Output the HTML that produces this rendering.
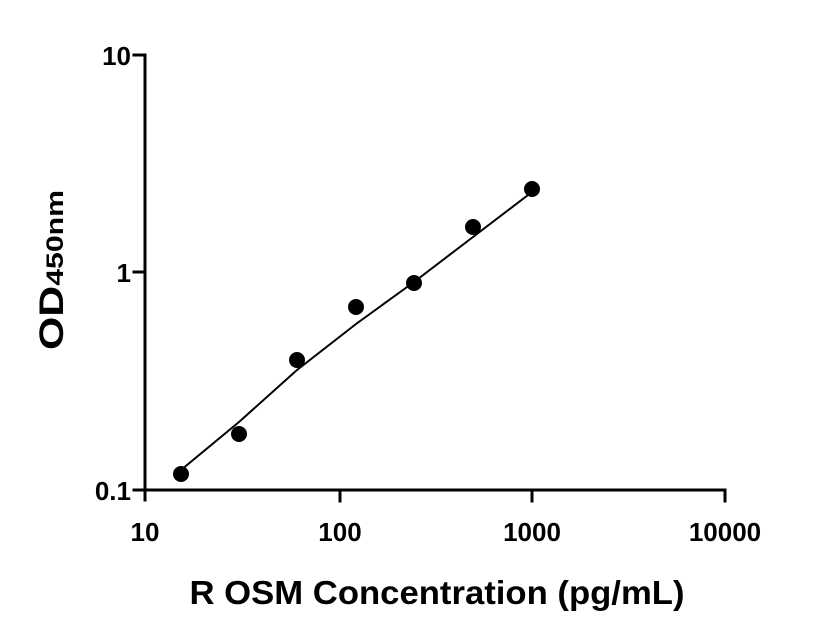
<!DOCTYPE html>
<html><head><style>
html,body{margin:0;padding:0;background:#fff;}
svg{display:block;}
text{font-family:"Liberation Sans",sans-serif;font-weight:bold;fill:#000;}
</style></head><body>
<svg width="816" height="640" viewBox="0 0 816 640">
<g stroke="#000" stroke-width="3" fill="none" stroke-linecap="square">
<line x1="145" y1="55" x2="145" y2="500"/>
<line x1="134" y1="490" x2="725" y2="490"/>
<line x1="134" y1="55" x2="145" y2="55"/>
<line x1="134" y1="272" x2="145" y2="272"/>
<line x1="340" y1="490" x2="340" y2="501"/>
<line x1="532" y1="490" x2="532" y2="501"/>
<line x1="725" y1="490" x2="725" y2="501"/>
</g>
<g font-size="26" text-anchor="end">
<text x="131" y="65">10</text>
<text x="131" y="282">1</text>
<text x="131" y="500">0.1</text>
</g>
<g font-size="26" text-anchor="middle">
<text x="145" y="541">10</text>
<text x="340" y="541">100</text>
<text x="532" y="541">1000</text>
<text x="725" y="541">10000</text>
</g>
<text x="437" y="604" font-size="33" text-anchor="middle" textLength="495" lengthAdjust="spacingAndGlyphs">R OSM Concentration (pg/mL)</text>
<text transform="translate(63,270) rotate(-90)" font-size="34" text-anchor="middle" textLength="160" lengthAdjust="spacingAndGlyphs">OD<tspan font-size="24">450nm</tspan></text>
<polyline fill="none" stroke="#000" stroke-width="2" points="181,470 239,422 297,370 356,324 414,282 473,237 532,192"/>
<g fill="#000">
<circle cx="181" cy="474" r="8"/>
<circle cx="239" cy="434" r="8"/>
<circle cx="297" cy="360" r="8"/>
<circle cx="356" cy="307" r="8"/>
<circle cx="414" cy="283" r="8"/>
<circle cx="473" cy="227" r="8"/>
<circle cx="532" cy="189" r="8"/>
</g>
</svg>
</body></html>
